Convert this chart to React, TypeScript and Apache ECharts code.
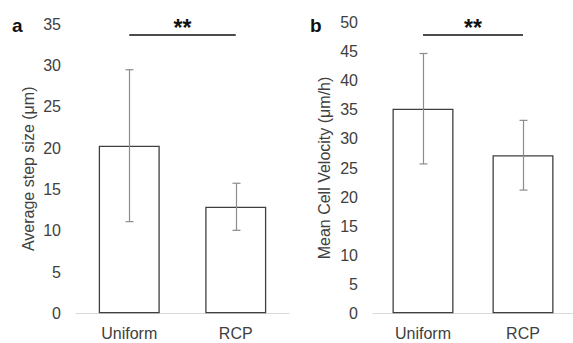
import React, { useEffect, useRef } from "react";
import * as echarts from "echarts";

const categories = ["Uniform", "RCP"];
const stepMean = [20.3, 12.9];
const stepErr = [9.2, 2.85];
const velMean = [35.2, 27.2];
const velErr = [9.5, 6.0];
const stepSigLevel = 33.7;
const velSigLevel = 47.9;

const FONT = "'Liberation Sans', Arial, sans-serif";
const TXT = "#404040";

function errorSeries(idx: number, means: number[], errs: number[]) {
  return {
    type: "custom",
    xAxisIndex: idx,
    yAxisIndex: idx,
    silent: true,
    z: 5,
    data: means.map((m, i) => [i, m - errs[i], m + errs[i]]),
    renderItem: (params: any, api: any) => {
      const lo = api.coord([api.value(0), api.value(1)]);
      const hi = api.coord([api.value(0), api.value(2)]);
      const x = Math.round(lo[0]) + 0.5;
      const w = 4;
      const style = { stroke: "#8c8c8c", lineWidth: 1.2, fill: "none" };
      return {
        type: "group",
        children: [
          { type: "line", shape: { x1: x, y1: lo[1], x2: x, y2: hi[1] }, style },
          { type: "line", shape: { x1: x - w, y1: lo[1], x2: x + w, y2: lo[1] }, style },
          { type: "line", shape: { x1: x - w, y1: hi[1], x2: x + w, y2: hi[1] }, style },
        ],
      };
    },
  };
}

function sigMark(level: number) {
  return {
    silent: true,
    symbol: "none",
    lineStyle: { color: "#111", width: 1.6, type: "solid" },
    label: {
      show: true,
      position: "insideMiddleTop",
      formatter: "**",
      color: "#111",
      fontSize: 23,
      fontWeight: "bold",
      fontFamily: FONT,
      distance: -4.5,
    },
    data: [
      [
        { coord: [categories[0], level] },
        { coord: [categories[1], level] },
      ],
    ],
  };
}

export default function App() {
  const ref = useRef<HTMLDivElement>(null);
  useEffect(() => {
    if (!ref.current) return;
    const chart = echarts.init(ref.current, null, { renderer: "svg" });
    const xAxisBase = {
      type: "category",
      data: categories,
      axisLine: { show: true, lineStyle: { color: "#d9d9d9", width: 1 } },
      axisTick: { show: false },
      axisLabel: { color: TXT, fontSize: 16, fontFamily: FONT, margin: 12 },
    };
    const yAxisBase = {
      type: "value",
      min: 0,
      interval: 5,
      axisLine: { show: false },
      axisTick: { show: false },
      splitLine: { show: false },
      axisLabel: { color: TXT, fontSize: 16, fontFamily: FONT, margin: 15 },
      nameLocation: "middle",
      nameTextStyle: { color: TXT, fontSize: 16, fontFamily: FONT },
    };
    chart.setOption({
      animation: false,
      backgroundColor: "#fff",
      grid: [
        { left: 76, width: 213, top: 24.3, bottom: 29.7 },
        { left: 373, width: 214, top: 22.7, bottom: 29.7 },
      ],
      xAxis: [
        { ...xAxisBase, gridIndex: 0 },
        { ...xAxisBase, gridIndex: 1 },
      ],
      yAxis: [
        { ...yAxisBase, gridIndex: 0, max: 35, name: "Average step size (μm)", nameGap: 40 },
        { ...yAxisBase, gridIndex: 1, max: 50, name: "Mean Cell Velocity (μm/h)", nameGap: 41 },
      ],
      graphic: [
        { type: "text", left: 12, top: 16, style: { text: "a", fontSize: 19, fontWeight: "bold", fontFamily: FONT, fill: "#111" } },
        { type: "text", left: 310, top: 16, style: { text: "b", fontSize: 19, fontWeight: "bold", fontFamily: FONT, fill: "#111" } },
      ],
      series: [
        {
          type: "bar",
          xAxisIndex: 0,
          yAxisIndex: 0,
          data: stepMean,
          barWidth: 61,
          itemStyle: { color: "#fff", borderColor: "#404040", borderWidth: 1.3 },
          markLine: sigMark(stepSigLevel),
        },
        errorSeries(0, stepMean, stepErr),
        {
          type: "bar",
          xAxisIndex: 1,
          yAxisIndex: 1,
          data: velMean,
          barWidth: 61,
          itemStyle: { color: "#fff", borderColor: "#404040", borderWidth: 1.3 },
          markLine: sigMark(velSigLevel),
        },
        errorSeries(1, velMean, velErr),
      ],
    });
    return () => chart.dispose();
  }, []);
  return <div ref={ref} style={{ width: 573, height: 343, position: "absolute", left: 0, top: 0 }} />;
}
